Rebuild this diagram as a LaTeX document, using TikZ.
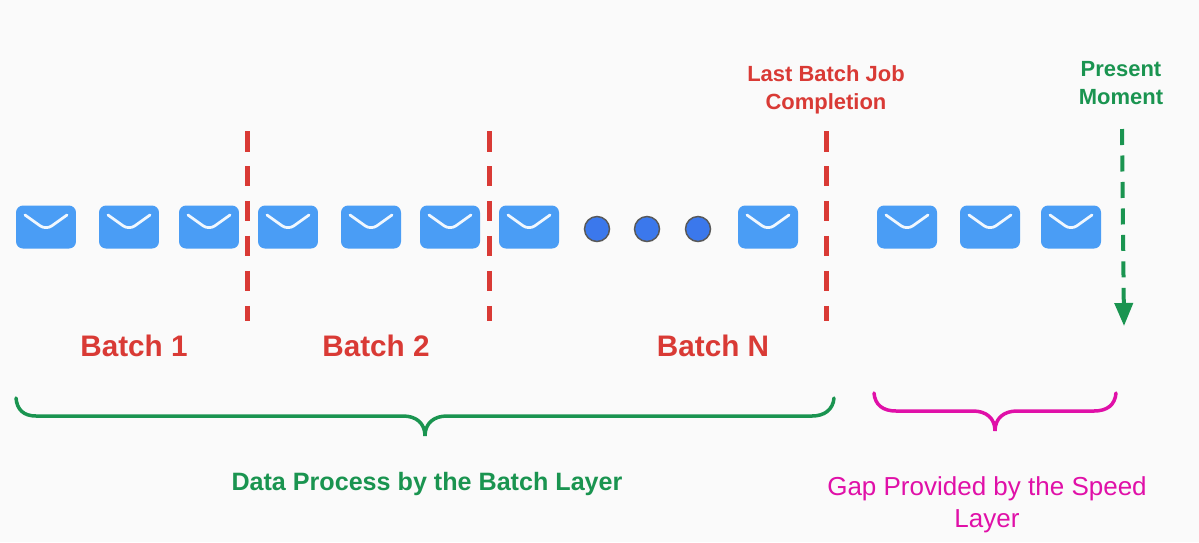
\documentclass[tikz,border=0pt]{standalone}
\usepackage{fontspec}
\setmainfont{Liberation Sans}
\usetikzlibrary{positioning, arrows.meta}
\definecolor{pagebg}{HTML}{FAFAFA}
\definecolor{msgblue}{HTML}{4A9DF5}
\definecolor{dotblue}{HTML}{3B78EC}
\definecolor{batchred}{HTML}{D93A35}
\definecolor{layergreen}{HTML}{1A9450}
\definecolor{gapmagenta}{HTML}{E010A8}

\begin{document}
\begin{tikzpicture}[
        x=0.02cm, y=-0.02cm,
        msg/.style={rectangle, rounded corners=0.14cm, fill=msgblue, minimum width=1.2cm, minimum height=0.86cm, inner sep=0pt,
          path picture={\draw[white!92!msgblue, line width=0.055cm, line cap=round, line join=round]
            ([xshift=-0.42cm, yshift=0.24cm]path picture bounding box.center) -- ([yshift=-0.06cm]path picture bounding box.center) -- ([xshift=0.42cm, yshift=0.24cm]path picture bounding box.center);}},
        dot/.style={circle, draw=black!65, line width=0.03cm, fill=dotblue, minimum size=0.5cm, inner sep=0pt},
        cut/.style={draw=batchred, line width=0.1cm, dash pattern=on 0.41cm off 0.29cm},
        batch/.style={text=batchred, font=\fontsize{16.9}{20}\selectfont\bfseries, inner sep=0pt},
        brace/.style={line width=0.07cm, line cap=round}
      ]
        \useasboundingbox (0,0) rectangle (1199,542);
        \fill[pagebg] (0,0) rectangle (1199,542);

        % Messages
        \node[msg] (m1) at (46,227) {};
        \node[msg] (m2) at (129,227) {};
        \node[msg] (m3) at (209,227) {};
        \node[msg] (m4) at (288,227) {};
        \node[msg] (m5) at (371,227) {};
        \node[msg] (m6) at (450,227) {};
        \node[msg] (m7) at (529,227) {};
        \node[msg] (m8) at (768,227) {};
        \node[msg] (m9) at (907,227) {};
        \node[msg] (m10) at (990,227) {};
        \node[msg] (m11) at (1071,227) {};

        % Dots
        \node[dot] (d1) at (597,229) {};
        \node[dot] (d2) at (647,229) {};
        \node[dot] (d3) at (698,229) {};

        % Batch limits
        \coordinate (c1t) at (247,131);
        \coordinate (c1b) at (247,321);
        \coordinate (c2t) at (489,131);
        \coordinate (c2b) at (489,321);
        \coordinate (c3t) at (826,131);
        \coordinate (c3b) at (826,321);
        \draw[cut] (c1t) -- (c1b);
        \draw[cut] (c2t) -- (c2b);
        \draw[cut] (c3t) -- (c3b);

        % Present moment
        \coordinate (nowt) at (1122,129);
        \coordinate (nowb) at (1124,326);
        \draw[layergreen, line width=0.08cm, dash pattern=on 0.32cm off 0.21cm, -{Triangle[length=0.46cm, width=0.36cm]}] (nowt) -- (nowb);

        % Labels
        \node[batch] (b1) at (134,346) {Batch 1};
        \node[batch] (b2) at (376,346) {Batch 2};
        \node[batch] (bn) at (713,346) {Batch N};
        \node[text=batchred, font=\fontsize{12.5}{16}\selectfont\bfseries, align=center, inner sep=0pt] (last) at (826,90) {Last Batch Job\\Completion};
        \node[text=layergreen, font=\fontsize{12.5}{16}\selectfont\bfseries, align=center, inner sep=0pt] (now) at (1121,83) {Present\\Moment};
        \node[text=layergreen, font=\fontsize{14.3}{18}\selectfont\bfseries, inner sep=0pt] (data) at (427,484) {Data Process by the Batch Layer};
        \node[text=gapmagenta, font=\fontsize{14.8}{18.5}\selectfont, align=center, inner sep=0pt] (gap) at (987,505) {Gap Provided by the Speed\\Layer};

        % Braces
        \coordinate (gl) at (16,398);
        \coordinate (gt) at (425,436);
        \coordinate (gr) at (834,398);
        \draw[brace, layergreen] (gl) .. controls (17,410) and (24,416) .. (36,416) -- (403,416) .. controls (416,416) and (425,423) .. (gt) .. controls (425,423) and (434,416) .. (447,416) -- (812,416) .. controls (824,416) and (833,410) .. (gr);
        \coordinate (pl) at (874,393);
        \coordinate (pt) at (995,431);
        \coordinate (pr) at (1116,393);
        \draw[brace, gapmagenta] (pl) .. controls (875,405) and (883,411) .. (896,411) -- (973,411) .. controls (986,411) and (995,418) .. (pt) .. controls (995,418) and (1004,411) .. (1017,411) -- (1094,411) .. controls (1107,411) and (1115,405) .. (pr);
      \end{tikzpicture}
\end{document}
